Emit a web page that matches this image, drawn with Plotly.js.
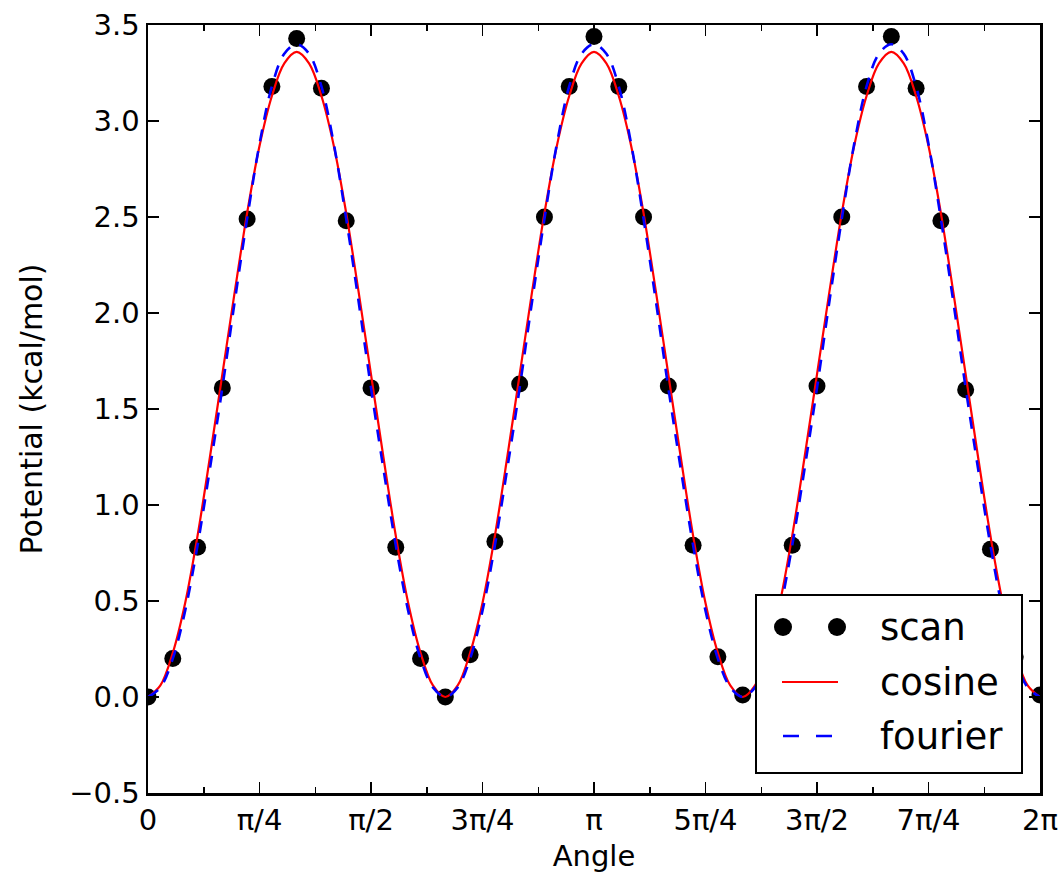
<!DOCTYPE html>
<html>
<head>
<meta charset="utf-8">
<script src="https://cdn.plot.ly/plotly-3.0.1.min.js"></script>
<style>html,body{margin:0;padding:0;background:#fff;}#chart{width:1064px;height:880px;}</style>
</head>
<body>
<div id="chart"></div>
<script>
// Scan points, every 10 degrees (0..360)
const scanDeg = [0,10,20,30,40,50,60,70,80,90,100,110,120,130,140,150,160,170,180,190,200,210,220,230,240,250,260,270,280,290,300,310,320,330,340,350,360];
const scanVal = [0.00,0.20,0.78,1.61,2.49,3.18,3.43,3.17,2.48,1.61,0.78,0.20,0.00,0.22,0.81,1.63,2.50,3.18,3.44,3.18,2.50,1.62,0.79,0.21,0.01,0.21,0.79,1.62,2.50,3.18,3.44,3.17,2.48,1.60,0.77,0.21,0.01];

// Fitted curves, read every 5 degrees
const curveDeg = [0,5,10,15,20,25,30,35,40,45,50,55,60,65,70,75,80,85,90,95,100,105,110,115,120,
  125,130,135,140,145,150,155,160,165,170,175,180,185,190,195,200,205,210,215,220,225,230,235,240,
  245,250,255,260,265,270,275,280,285,290,295,300,305,310,315,320,325,330,335,340,345,350,355,360];
const cosineVal = [0.00,0.06,0.23,0.49,0.84,1.25,1.68,2.11,2.52,2.87,3.13,3.30,3.36,3.30,3.13,2.87,2.52,2.11,1.68,1.25,0.84,0.49,0.23,0.06,0.00,
  0.06,0.23,0.49,0.84,1.25,1.68,2.11,2.52,2.87,3.13,3.30,3.36,3.30,3.13,2.87,2.52,2.11,1.68,1.25,0.84,0.49,0.23,0.06,0.00,
  0.06,0.23,0.49,0.84,1.25,1.68,2.11,2.52,2.87,3.13,3.30,3.36,3.30,3.13,2.87,2.52,2.11,1.68,1.25,0.84,0.49,0.23,0.06,0.00];
const fourierVal = [0.00,0.05,0.20,0.45,0.79,1.19,1.61,2.06,2.49,2.88,3.18,3.35,3.40,3.35,3.18,2.88,2.49,2.06,1.61,1.19,0.79,0.45,0.20,0.05,0.00,
  0.05,0.20,0.45,0.79,1.19,1.61,2.06,2.49,2.88,3.18,3.35,3.40,3.35,3.18,2.88,2.49,2.06,1.61,1.19,0.79,0.45,0.20,0.05,0.00,
  0.05,0.20,0.45,0.79,1.19,1.61,2.06,2.49,2.88,3.18,3.35,3.40,3.35,3.18,2.88,2.49,2.06,1.61,1.19,0.79,0.45,0.20,0.05,0.00];

const tickLabels = ['0','π/4','π/2','3π/4','π','5π/4','3π/2','7π/4','2π'];
const tickQuarters = [0,1,2,3,4,5,6,7,8];
const legendNames = ['scan','cosine','fourier'];

const toRad = d => d * Math.PI / 180;
const font = 'DejaVu Sans, sans-serif';

const M = {l: 148, r: 24, t: 25, b: 87};
const W = 1064, H = 880;
const PW = W - M.l - M.r, PH = H - M.t - M.b;
// pixel -> paper coordinate helpers (for the legend box only)
const px = x => (x - M.l) / PW;
const py = y => (H - M.b - y) / PH;

const traces = [
  {x: scanDeg.map(toRad), y: scanVal, mode: 'markers', name: legendNames[0], type: 'scatter',
   marker: {color: '#000', size: 17}, showlegend: false},
  {x: curveDeg.map(toRad), y: cosineVal, mode: 'lines', name: legendNames[1], type: 'scatter',
   line: {color: '#ff0000', width: 2.2, shape: 'spline', smoothing: 1}, showlegend: false},
  {x: curveDeg.map(toRad), y: fourierVal, mode: 'lines', name: legendNames[2], type: 'scatter',
   line: {color: '#0000ff', width: 2.6, dash: '12px,10px', shape: 'spline', smoothing: 1}, showlegend: false}
];

// Legend drawn as layout shapes/annotations (matplotlib style, two markers for scan)
const rowY = [627, 682, 736];
const shapes = [
  {type: 'rect', xref: 'paper', yref: 'paper', layer: 'above',
   x0: px(756), x1: px(1022), y0: py(773), y1: py(595),
   fillcolor: '#fff', line: {color: '#000', width: 2}},
  {type: 'circle', xref: 'paper', yref: 'paper', layer: 'above', xsizemode: 'pixel', ysizemode: 'pixel',
   xanchor: px(783), yanchor: py(rowY[0]), x0: -9, x1: 9, y0: -9, y1: 9,
   fillcolor: '#000', line: {color: '#000', width: 0}},
  {type: 'circle', xref: 'paper', yref: 'paper', layer: 'above', xsizemode: 'pixel', ysizemode: 'pixel',
   xanchor: px(837), yanchor: py(rowY[0]), x0: -9, x1: 9, y0: -9, y1: 9,
   fillcolor: '#000', line: {color: '#000', width: 0}},
  {type: 'line', xref: 'paper', yref: 'paper', layer: 'above',
   x0: px(782), x1: px(838), y0: py(rowY[1]), y1: py(rowY[1]),
   line: {color: '#ff0000', width: 2.2}},
  {type: 'line', xref: 'paper', yref: 'paper', layer: 'above',
   x0: px(783), x1: px(832), y0: py(rowY[2]), y1: py(rowY[2]),
   line: {color: '#0000ff', width: 2.6, dash: '16px,17px'}}
];
const annotations = legendNames.map((n, i) => ({
  text: n, xref: 'paper', yref: 'paper', x: px(878), y: py(rowY[i]),
  xanchor: 'left', yanchor: 'middle', showarrow: false,
  font: {family: font, size: 37, color: '#000'}
}));

const layout = {
  width: W, height: H,
  margin: {l: M.l, r: M.r, t: M.t, b: M.b, pad: 0},
  paper_bgcolor: '#fff', plot_bgcolor: '#fff',
  font: {family: font, color: '#000', size: 29},
  showlegend: false,
  shapes: shapes,
  annotations: annotations,
  xaxis: {
    range: [0, 2 * Math.PI],
    tickmode: 'array',
    tickvals: tickQuarters.map(q => q * Math.PI / 4),
    ticktext: tickLabels,
    ticks: 'inside', ticklen: 11, tickwidth: 1.5, tickcolor: '#000',
    minor: {ticks: 'inside', ticklen: 6, tickwidth: 1.5, tickcolor: '#000', dtick: Math.PI / 8, tick0: 0, showgrid: false},
    showline: true, linecolor: '#000', linewidth: 2.5, mirror: 'allticks',
    showgrid: false, zeroline: false,
    tickfont: {family: font, size: 29},
    title: {text: 'Angle', font: {family: font, size: 29}, standoff: 10}
  },
  yaxis: {
    range: [-0.5, 3.5],
    tickmode: 'linear', tick0: -0.5, dtick: 0.5, tickformat: '.1f',
    ticks: 'inside', ticklen: 11, tickwidth: 1.5, tickcolor: '#000',
    showline: true, linecolor: '#000', linewidth: 2.5, mirror: 'allticks',
    showgrid: false, zeroline: false,
    tickfont: {family: font, size: 29},
    title: {text: 'Potential (kcal/mol)', font: {family: font, size: 30}, standoff: 18}
  }
};

Plotly.newPlot('chart', traces, layout, {displayModeBar: false, staticPlot: true});
</script>
</body>
</html>
